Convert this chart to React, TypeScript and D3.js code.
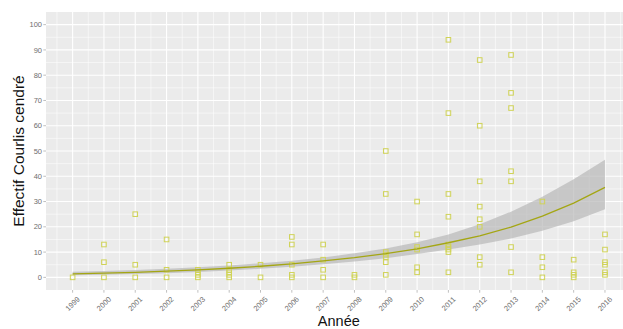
import React from "react";
import * as d3 from "d3";

// Observations: [year, count]
const obsYears = [
  1999,
  2000, 2000, 2000,
  2001, 2001, 2001,
  2002, 2002, 2002,
  2003, 2003, 2003, 2003,
  2004, 2004, 2004, 2004, 2004,
  2005, 2005,
  2006, 2006, 2006, 2006, 2006,
  2007, 2007, 2007, 2007,
  2008, 2008,
  2009, 2009, 2009, 2009, 2009, 2009, 2009,
  2010, 2010, 2010, 2010, 2010, 2010,
  2011, 2011, 2011, 2011, 2011, 2011, 2011, 2011, 2011,
  2012, 2012, 2012, 2012, 2012, 2012, 2012, 2012,
  2013, 2013, 2013, 2013, 2013, 2013, 2013,
  2014, 2014, 2014, 2014,
  2015, 2015, 2015, 2015,
  2016, 2016, 2016, 2016, 2016, 2016,
];
const obsCounts = [
  0,
  13, 6, 0,
  25, 5, 0,
  15, 3, 0,
  3, 2, 1, 0,
  5, 3, 2, 1, 0,
  5, 0,
  16, 13, 5, 1, 0,
  13, 7, 3, 0,
  1, 0,
  50, 33, 10, 9, 8, 6, 1,
  30, 17, 12, 11, 4, 2,
  94, 65, 33, 24, 13, 12, 11, 10, 2,
  86, 60, 38, 28, 23, 20, 8, 5,
  88, 73, 67, 42, 38, 12, 2,
  30, 8, 4, 0,
  7, 2, 1, 0,
  17, 11, 6, 5, 2, 1,
];

// Smoothed trend with confidence band
const fitYears = [1999, 2000, 2001, 2002, 2003, 2004, 2005, 2006, 2007, 2008, 2009, 2010, 2011, 2012, 2013, 2014, 2015, 2016];
const fitValues = [1.4, 1.7, 2.0, 2.5, 3.0, 3.6, 4.4, 5.3, 6.5, 7.8, 9.4, 11.3, 13.7, 16.4, 19.9, 24.2, 29.4, 35.6];
const fitLower = [0.8, 1.0, 1.3, 1.6, 2.1, 2.7, 3.4, 4.2, 5.2, 6.3, 7.6, 9.2, 11.0, 13.0, 15.4, 18.4, 22.2, 27.0];
const fitUpper = [2.2, 2.5, 2.9, 3.4, 4.0, 4.7, 5.6, 6.6, 7.9, 9.5, 11.4, 13.9, 17.0, 21.0, 26.0, 31.9, 38.8, 46.5];

const yTicks = [0, 10, 20, 30, 40, 50, 60, 70, 80, 90, 100];
const xTicks = fitYears;

const W = 623;
const H = 329;
const panel = { left: 46, top: 12, bottom: 290 };

export default function App() {
  const x = d3.scaleLinear().domain([1998.15, 2016.85]).range([panel.left, 631.6]);
  const y = d3.scaleLinear().domain([-5, 105]).range([panel.bottom, panel.top]);
  const panelRight = 631.6;

  const minorY = d3.range(-5, 106, 10).filter((v) => v > -5 && v < 105);
  const minorX = d3.range(1998.5, 2017, 1);

  const area = d3
    .area<number>()
    .x((_, i) => x(fitYears[i]))
    .y0((_, i) => y(fitLower[i]))
    .y1((_, i) => y(fitUpper[i]));
  const line = d3
    .line<number>()
    .x((_, i) => x(fitYears[i]))
    .y((d) => y(d));

  const font = "'Liberation Sans', Arial, sans-serif";
  const sq = 4.6;

  return (
    <svg width={W} height={H} style={{ position: "absolute", left: 0, top: 0 }} fontFamily={font}>
      <rect x={0} y={0} width={W} height={H} fill="#ffffff" />
      <rect x={panel.left} y={panel.top} width={panelRight - panel.left} height={panel.bottom - panel.top} fill="#EBEBEB" />
      {minorY.map((v) => (
        <line key={"my" + v} x1={panel.left} x2={panelRight} y1={y(v)} y2={y(v)} stroke="#fff" strokeWidth={0.55} />
      ))}
      {minorX.map((v) => (
        <line key={"mx" + v} x1={x(v)} x2={x(v)} y1={panel.top} y2={panel.bottom} stroke="#fff" strokeWidth={0.55} />
      ))}
      {yTicks.map((v) => (
        <line key={"gy" + v} x1={panel.left} x2={panelRight} y1={y(v)} y2={y(v)} stroke="#fff" strokeWidth={1.1} />
      ))}
      {xTicks.map((v) => (
        <line key={"gx" + v} x1={x(v)} x2={x(v)} y1={panel.top} y2={panel.bottom} stroke="#fff" strokeWidth={1.1} />
      ))}
      <path d={area(fitValues) ?? ""} fill="#b8b8b8" fillOpacity={0.7} />
      {obsCounts.map((c, i) => (
        <rect
          key={"p" + i}
          x={x(obsYears[i]) - sq / 2}
          y={y(c) - sq / 2}
          width={sq}
          height={sq}
          fill="none"
          stroke="#d0d358"
          strokeWidth={1}
        />
      ))}
      <path d={line(fitValues) ?? ""} fill="none" stroke="#a4a614" strokeWidth={1.3} />
      {yTicks.map((v) => (
        <g key={"ty" + v}>
          <line x1={panel.left - 2.7} x2={panel.left} y1={y(v)} y2={y(v)} stroke="#b0b0b0" strokeWidth={0.8} />
          <text x={panel.left - 4} y={y(v)} dy="0.35em" textAnchor="end" fontSize={7.5} fill="#6e6e6e">
            {v}
          </text>
        </g>
      ))}
      {xTicks.map((v) => (
        <g key={"tx" + v}>
          <line x1={x(v)} x2={x(v)} y1={panel.bottom} y2={panel.bottom + 2.7} stroke="#b0b0b0" strokeWidth={0.8} />
          <text
            transform={`translate(${x(v) + 4},${panel.bottom + 6}) rotate(-45)`}
            textAnchor="end"
            dy="0.7em"
            fontSize={7.5}
            fill="#6e6e6e"
          >
            {v}
          </text>
        </g>
      ))}
      <text x={(panel.left + panelRight) / 2} y={326} textAnchor="middle" fontSize={14.5} fill="#111">
        Année
      </text>
      <text
        transform={`translate(${24},${(panel.top + panel.bottom) / 2}) rotate(-90)`}
        textAnchor="middle"
        fontSize={15.5}
        fill="#111"
      >
        Effectif Courlis cendré
      </text>
    </svg>
  );
}
